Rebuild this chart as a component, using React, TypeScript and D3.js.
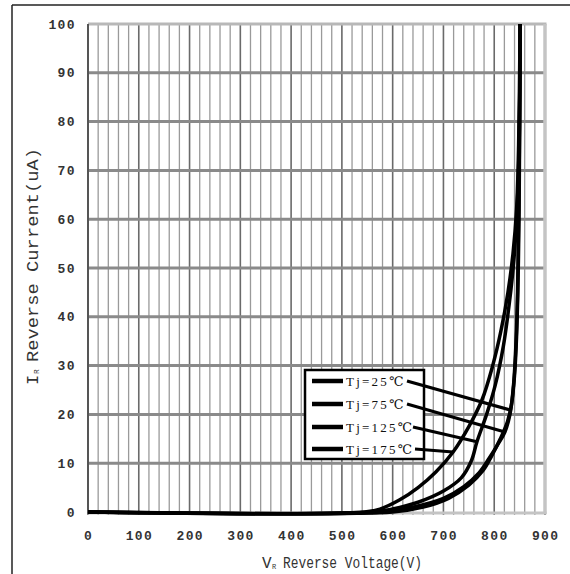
import React from "react";
import * as d3 from "d3";

const W = 570;
const H = 574;

const xTicks = [0, 100, 200, 300, 400, 500, 600, 700, 800, 900];
const yTicks = [0, 10, 20, 30, 40, 50, 60, 70, 80, 90, 100];
const minorX = d3.range(0, 901, 20);

const seriesNames = ["Tj=25℃", "Tj=75℃", "Tj=125℃", "Tj=175℃"];

// [voltage V, current uA]
const tj25: [number, number][] = [[0, 0], [600, 0], [660, 1], [710, 2.8], [750, 5.5], [778, 8.5], [795, 11.5], [812, 15], [826, 18.5], [834, 22], [840, 28], [844, 36], [847, 48], [849, 62], [851, 100]];
const tj75: [number, number][] = [[0, 0], [580, 0], [640, 1], [700, 2.8], [740, 5.2], [770, 8], [790, 11], [808, 14], [821, 16.4], [831, 20], [838, 26], [843, 35], [846, 45], [848, 60], [850, 80], [851, 100]];
const tj125: [number, number][] = [[0, 0], [560, 0], [600, 0.6], [650, 2], [700, 4.3], [735, 7], [755, 10.5], [766, 14.4], [785, 20], [802, 26], [818, 34], [830, 43], [839, 52], [845, 62], [849, 75], [851, 100]];
const tj175: [number, number][] = [[0, 0], [545, 0], [575, 0.6], [614, 2.5], [650, 5], [685, 8.2], [719, 12.3], [750, 17.5], [776, 23], [797, 30], [813, 37], [827, 45], [837, 53], [844, 62], [848, 75], [851, 100]];
const seriesData = [tj25, tj75, tj125, tj175];

// where each legend pointer touches its curve [V, uA]
const pointerTargets: [number, number][] = [[831, 20.9], [821, 16.4], [766, 14.4], [719, 12.3]];

export default function App() {
  const x = d3.scaleLinear().domain([0, 900]).range([88, 545]);
  const y = d3.scaleLinear().domain([0, 100]).range([512, 24]);
  const line = d3
    .line<[number, number]>()
    .x((d) => x(d[0]))
    .y((d) => y(d[1]))
    .curve(d3.curveCatmullRom.alpha(0.5));

  const tickFont = "'Liberation Mono', 'DejaVu Sans Mono', monospace";
  const legend = { x: 305, y: 370, w: 119, h: 89 };
  const rowY = [381, 404, 427, 449];
  const textEnd = [407, 407, 413, 415];

  return (
    <div style={{ position: "fixed", left: 0, top: 0 }}>
      <svg width={W} height={H} style={{ display: "block", background: "#fff" }}>
        {/* outer frame */}
        <line x1={12} y1={5} x2={W} y2={5} stroke="#222" strokeWidth={1.5} />
        <line x1={12} y1={5} x2={12} y2={H} stroke="#222" strokeWidth={1.5} />

        {/* minor vertical grid */}
        {minorX.map((v) => (
          <line
            key={"vx" + v}
            x1={x(v)}
            x2={x(v)}
            y1={y(100)}
            y2={y(0) + 3}
            stroke={v % 100 === 0 ? "#6a6a6a" : "#9a9a9a"}
            strokeWidth={v % 100 === 0 ? 1.6 : 1.3}
          />
        ))}
        {/* horizontal grid */}
        {yTicks.slice(1, -1).map((t) => (
          <line key={"hy" + t} x1={x(0)} x2={x(900)} y1={y(t)} y2={y(t)} stroke="#8a8a8a" strokeWidth={3} />
        ))}
        {/* plot border */}
        <line x1={x(0)} x2={x(900) + 1.5} y1={y(100)} y2={y(100)} stroke="#b8b8b8" strokeWidth={3} />
        <line x1={x(900)} x2={x(900)} y1={y(100)} y2={y(0) + 2} stroke="#c4c4c4" strokeWidth={3.5} />
        <line x1={x(0)} x2={x(900) + 1.5} y1={y(0) + 1} y2={y(0) + 1} stroke="#c4c4c4" strokeWidth={3} />
        <line x1={x(0)} x2={x(0)} y1={y(100)} y2={y(0) + 2} stroke="#555" strokeWidth={2} />

        {/* y tick labels */}
        {yTicks.map((t) => (
          <text
            key={"yt" + t}
            x={76}
            y={y(t)}
            dy="0.35em"
            textAnchor="end"
            fontFamily={tickFont}
            fontWeight="bold"
            fontSize={13}
            letterSpacing={1.4}
            fill="#333"
          >
            {t}
          </text>
        ))}
        {/* x tick labels */}
        {xTicks.map((t) => (
          <text
            key={"xt" + t}
            x={x(t) + 0.7}
            y={535}
            dy="0.35em"
            textAnchor="middle"
            fontFamily={tickFont}
            fontWeight="bold"
            fontSize={13}
            letterSpacing={1.4}
            fill="#333"
          >
            {t}
          </text>
        ))}

        {/* axis titles */}
        <text x={262} y={568} fontFamily={tickFont} fontSize={16} fill="#333">V</text>
        <text x={272} y={569} fontFamily={tickFont} fontSize={7} fill="#333">R</text>
        <text x={283} y={568} fontFamily={tickFont} fontSize={16} fill="#333" textLength={139} lengthAdjust="spacingAndGlyphs">
          Reverse Voltage(V)
        </text>

        <g transform="translate(38,385) rotate(-90)">
          <text x={0} y={0} fontFamily={tickFont} fontSize={17} fill="#333">I</text>
          <text x={11} y={1} fontFamily={tickFont} fontSize={8} fill="#333">R</text>
          <text x={23} y={0} fontFamily={tickFont} fontSize={17} fill="#333" textLength={214} lengthAdjust="spacingAndGlyphs">
            Reverse Current(uA)
          </text>
        </g>

        {/* curves */}
        {seriesData.map((d, i) => (
          <path key={"c" + i} d={line(d) || ""} fill="none" stroke="#000" strokeWidth={3.5} strokeLinejoin="round" />
        ))}

        {/* legend */}
        <rect x={legend.x} y={legend.y} width={legend.w} height={legend.h} fill="#fff" stroke="#000" strokeWidth={2.5} />
        {seriesNames.map((n, i) => (
          <g key={"lg" + i}>
            <line x1={312} x2={343} y1={rowY[i]} y2={rowY[i]} stroke="#000" strokeWidth={4.5} />
            <text
              x={346}
              y={rowY[i]}
              dy="0.36em"
              fontFamily="'Liberation Serif', 'DejaVu Serif', serif"
              fontSize={13}
              letterSpacing={2.2}
              fill="#111"
            >
              {n}
            </text>
            <line
              x1={textEnd[i]}
              y1={rowY[i]}
              x2={x(pointerTargets[i][0])}
              y2={y(pointerTargets[i][1])}
              stroke="#000"
              strokeWidth={3.2}
            />
          </g>
        ))}
      </svg>
    </div>
  );
}
